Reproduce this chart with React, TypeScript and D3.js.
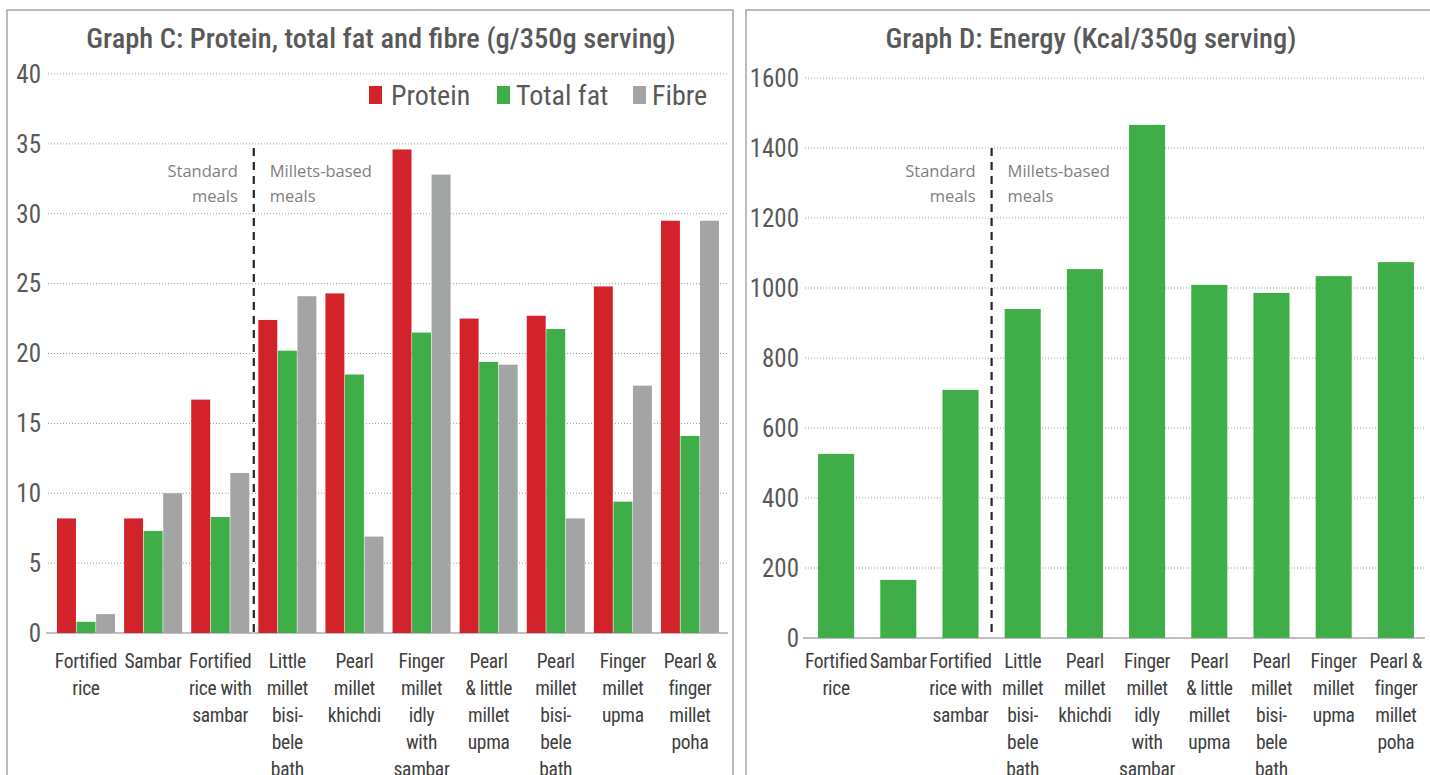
import React, { useEffect, useRef } from "react";
import * as d3 from "d3";

const categories = [
  "Fortified rice",
  "Sambar",
  "Fortified rice with sambar",
  "Little millet bisi-bele bath",
  "Pearl millet khichdi",
  "Finger millet idly with sambar",
  "Pearl & little millet upma",
  "Pearl millet bisi-bele bath",
  "Finger millet upma",
  "Pearl & finger millet poha",
];
const categoryLines = [
  ["Fortified", "rice"],
  ["Sambar"],
  ["Fortified", "rice with", "sambar"],
  ["Little", "millet", "bisi-", "bele", "bath"],
  ["Pearl", "millet", "khichdi"],
  ["Finger", "millet", "idly", "with", "sambar"],
  ["Pearl", "& little", "millet", "upma"],
  ["Pearl", "millet", "bisi-", "bele", "bath"],
  ["Finger", "millet", "upma"],
  ["Pearl &", "finger", "millet", "poha"],
];
const protein = [8.2, 8.2, 16.7, 22.4, 24.3, 34.6, 22.5, 22.7, 24.8, 29.5];
const totalFat = [0.8, 7.3, 8.3, 20.2, 18.5, 21.5, 19.4, 21.75, 9.4, 14.1];
const fibre = [1.35, 10.0, 11.45, 24.1, 6.9, 32.8, 19.2, 8.2, 17.7, 29.5];
const energy = [526, 166, 709, 940, 1054, 1466, 1009, 986, 1034, 1074];
const nutrientTicks = [0, 5, 10, 15, 20, 25, 30, 35, 40];
const energyTicks = [0, 200, 400, 600, 800, 1000, 1200, 1400, 1600];
const seriesNames = ["Protein", "Total fat", "Fibre"];
const seriesColors = ["#d2232a", "#3fae49", "#a3a5a4"];

const NARROW = "'Liberation Sans Narrow', 'Arial Narrow', 'Roboto Condensed', sans-serif";
const NOTE = "'Open Sans', 'Noto Sans', sans-serif";

const App = () => {
  const ref = useRef<SVGSVGElement>(null);

  useEffect(() => {
    const svg = d3.select(ref.current);
    svg.selectAll("*").remove();

    // panel frames
    svg.append("rect").attr("x", 7).attr("y", 10).attr("width", 726).attr("height", 800)
      .attr("fill", "none").attr("stroke", "#a6a6a6").attr("stroke-width", 1.5);
    svg.append("rect").attr("x", 746).attr("y", 10).attr("width", 720).attr("height", 800)
      .attr("fill", "none").attr("stroke", "#a6a6a6").attr("stroke-width", 1.5);

    const drawAxes = (g, y, ticks, gridX0, gridX1, labelX, baseX0, baseX1) => {
      g.append("g").selectAll("line").data(ticks.slice(1)).join("line")
        .attr("x1", gridX0).attr("x2", gridX1)
        .attr("y1", (d) => y(d)).attr("y2", (d) => y(d))
        .attr("stroke", "#9a9a9a").attr("stroke-width", 1).attr("stroke-dasharray", "1,2");
      g.append("g").selectAll("text").data(ticks).join("text")
        .attr("x", labelX).attr("y", (d) => y(d)).attr("dy", "0.35em")
        .attr("text-anchor", "end")
        .style("font-family", NARROW).style("font-size", "25px").style("fill", "#595959")
        .text((d) => d);
      g.append("line").attr("x1", baseX0).attr("x2", baseX1)
        .attr("y1", y(0)).attr("y2", y(0))
        .attr("stroke", "#bfbfbf").attr("stroke-width", 2);
    };

    const drawCategoryLabels = (g, x) => {
      const grp = g.append("g").selectAll("text").data(categoryLines).join("text")
        .attr("text-anchor", "middle")
        .style("font-family", NARROW).style("font-size", "19.5px")
        .style("letter-spacing", "-0.3px").style("fill", "#404040");
      grp.each(function (lines, i) {
        const t = d3.select(this);
        const cx = x(categories[i]) + x.bandwidth() / 2;
        lines.forEach((line, j) => {
          t.append("tspan").attr("x", cx).attr("y", 668 + j * 27).text(line);
        });
      });
    };

    const drawDivider = (g, xPos, y0, y1) => {
      g.append("line").attr("x1", xPos).attr("x2", xPos).attr("y1", y0).attr("y2", y1)
        .attr("stroke", "#262626").attr("stroke-width", 2.2).attr("stroke-dasharray", "8,6");
      const note = (txt, x, yy, anchor) =>
        g.append("text").attr("x", x).attr("y", yy).attr("text-anchor", anchor)
          .style("font-family", NOTE).style("font-size", "16.5px").style("fill", "#7f7f7f")
          .text(txt);
      note("Standard", xPos - 16, 177, "end");
      note("meals", xPos - 16, 202, "end");
      note("Millets-based", xPos + 16, 177, "start");
      note("meals", xPos + 16, 202, "start");
    };

    // ---- Graph C
    const gc = svg.append("g");
    const xC = d3.scaleBand().domain(categories).range([52.5, 723.5]).paddingInner(0.135).paddingOuter(0.067);
    const yC = d3.scaleLinear().domain([0, 40]).range([633, 74]);
    const xSub = d3.scaleBand().domain(seriesNames).range([0, xC.bandwidth()]).paddingInner(0.03);

    gc.append("text").attr("x", 381).attr("y", 48).attr("text-anchor", "middle")
      .style("font-family", NARROW).style("font-size", "28.5px").style("font-weight", 500).style("fill", "#595959")
      .text("Graph C: Protein, total fat and fibre (g/350g serving)");

    drawAxes(gc, yC, nutrientTicks, 48, 728, 41, 46, 728);

    const seriesValues = [protein, totalFat, fibre];
    categories.forEach((c, i) => {
      gc.append("g").attr("transform", `translate(${xC(c)},0)`)
        .selectAll("rect").data(seriesNames).join("rect")
        .attr("x", (s) => xSub(s))
        .attr("width", xSub.bandwidth())
        .attr("y", (s, k) => yC(seriesValues[k][i]))
        .attr("height", (s, k) => yC(0) - yC(seriesValues[k][i]))
        .attr("fill", (s, k) => seriesColors[k]);
    });

    drawDivider(gc, (xC(categories[2]) + xC.bandwidth() + xC(categories[3])) / 2, 148, 633);
    drawCategoryLabels(gc, xC);

    // legend
    const legendX = [369, 497, 633];
    const legend = gc.append("g").selectAll("g").data(seriesNames).join("g")
      .attr("transform", (d, i) => `translate(${legendX[i]},86)`);
    legend.append("rect").attr("width", 13).attr("height", 18).attr("fill", (d, i) => seriesColors[i]);
    legend.append("text").attr("x", (d, i) => (i === 0 ? 22 : 19)).attr("y", 9).attr("dy", "0.36em")
      .style("font-family", NARROW).style("font-size", "28px").style("fill", "#595959")
      .text((d) => d);

    // ---- Graph D
    const gd = svg.append("g");
    const xD = d3.scaleBand().domain(categories).range([805, 1427]).paddingInner(0.42).paddingOuter(0.21);
    const yD = d3.scaleLinear().domain([0, 1600]).range([638, 78]);

    gd.append("text").attr("x", 1091).attr("y", 48).attr("text-anchor", "middle")
      .style("font-family", NARROW).style("font-size", "28.5px").style("font-weight", 500).style("fill", "#595959")
      .text("Graph D: Energy (Kcal/350g serving)");

    drawAxes(gd, yD, energyTicks, 805, 1425, 799, 803, 1425);

    gd.append("g").selectAll("rect").data(energy).join("rect")
      .attr("x", (d, i) => xD(categories[i]))
      .attr("width", xD.bandwidth())
      .attr("y", (d) => yD(d))
      .attr("height", (d) => yD(0) - yD(d))
      .attr("fill", seriesColors[1]);

    const stepD = xD.step();
    drawDivider(gd, xD(categories[3]) + xD.bandwidth() / 2 - stepD / 2, 148, 638);
    drawCategoryLabels(gd, xD);
  }, []);

  return (
    <div style={{ position: "absolute", left: 0, top: 0 }}>
      <svg ref={ref} width={1430} height={775} style={{ display: "block", background: "#fff" }} />
    </div>
  );
};

export default App;
